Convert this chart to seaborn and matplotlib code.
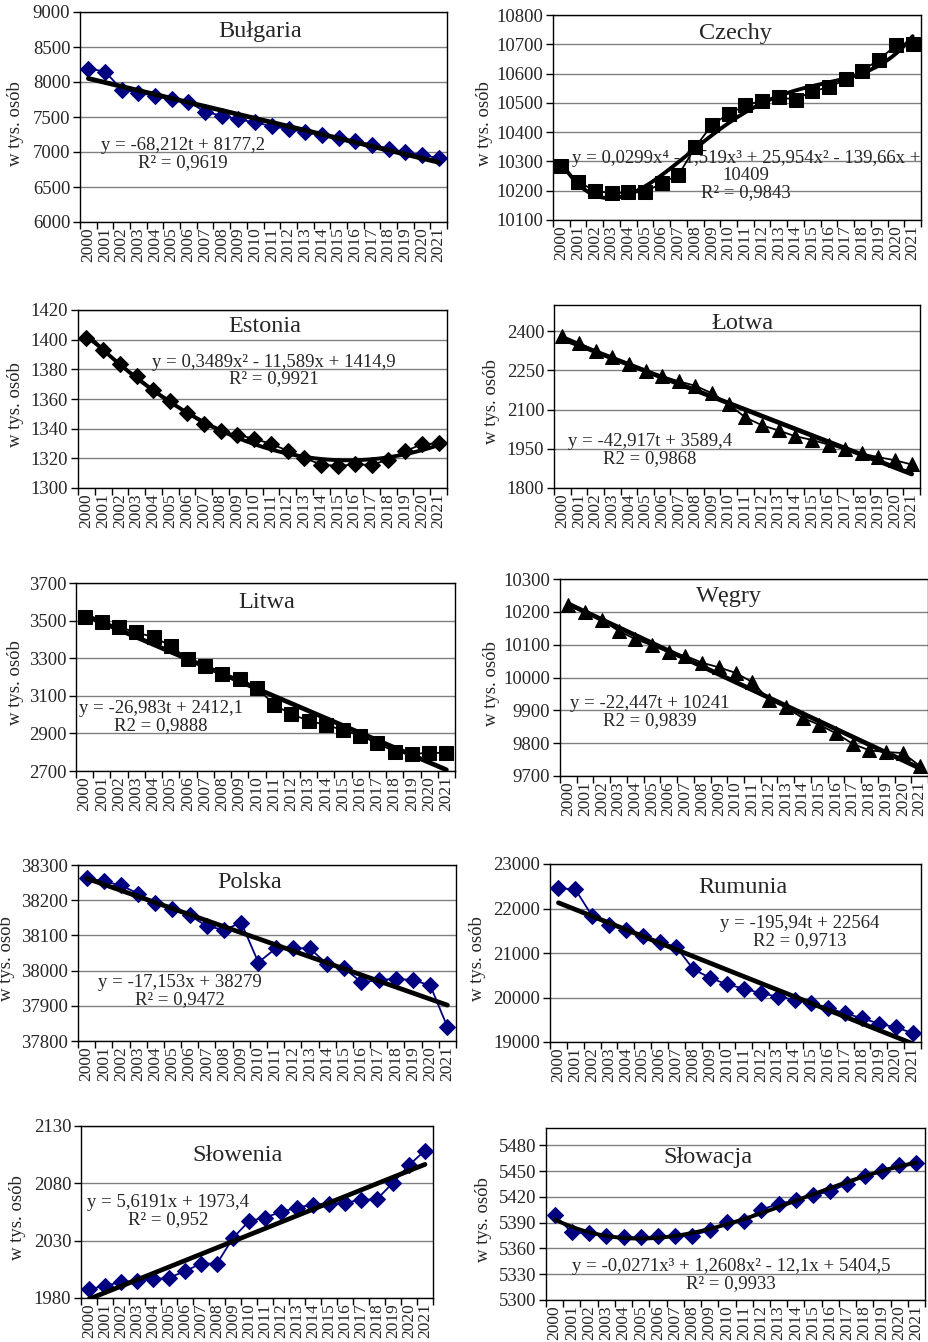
import numpy as np
import matplotlib
matplotlib.use("Agg")
import matplotlib.pyplot as plt
import seaborn as sns
from matplotlib.ticker import FixedLocator

# ---------------- data ----------------
years = list(range(2000, 2022))
year_labels = [str(y) for y in years]

bulgaria = [8191, 8150, 7891, 7846, 7801, 7761, 7719, 7573, 7518, 7467, 7422,
            7369, 7327, 7285, 7246, 7202, 7154, 7102, 7050, 7000, 6952, 6917]
czechy = [10283, 10231, 10200, 10191, 10194, 10195, 10226, 10254, 10348, 10425, 10462,
          10491, 10508, 10519, 10511, 10540, 10553, 10580, 10610, 10648, 10697, 10700]
estonia = [1401.3, 1392.7, 1383.5, 1375.2, 1366.3, 1358.9, 1350.7, 1342.9, 1338.4, 1335.7, 1333.3,
           1329.7, 1325.2, 1320.2, 1315.8, 1314.9, 1315.9, 1315.6, 1319.1, 1324.8, 1329.5, 1330.1]
lotwa = [2382, 2355, 2325, 2300, 2276, 2249, 2228, 2208, 2191, 2162, 2120,
         2070, 2040, 2020, 1998, 1984, 1966, 1948, 1932, 1918, 1906, 1890]
litwa = [3517, 3492, 3466, 3437, 3412, 3366, 3295, 3256, 3217, 3190, 3144,
         3052, 3002, 2968, 2945, 2918, 2888, 2847, 2803, 2789, 2798, 2795]
wegry = [10222, 10200, 10175, 10142, 10117, 10098, 10077, 10066, 10045, 10031, 10014,
         9986, 9932, 9909, 9877, 9856, 9830, 9798, 9778, 9773, 9770, 9731]
polska = [38263, 38254, 38242, 38219, 38191, 38174, 38157, 38126, 38116, 38136, 38023,
          38063, 38064, 38063, 38018, 38006, 37967, 37973, 37977, 37973, 37958, 37840]
rumunia = [22455, 22430, 21833, 21627, 21521, 21382, 21257, 21130, 20635, 20440, 20294,
           20199, 20096, 20020, 19947, 19871, 19760, 19644, 19534, 19414, 19329, 19202]
slowenia = [1987.8, 1990.5, 1994.0, 1995.0, 1996.4, 1997.6, 2003.4, 2010.0, 2010.0, 2032.4, 2047.0,
            2050.2, 2055.0, 2058.8, 2061.5, 2062.3, 2063.0, 2065.6, 2066.2, 2080.5, 2095.9, 2108.6]
slowacja = [5399, 5378.5, 5377.7, 5375, 5372.7, 5373, 5373.9, 5373.9, 5375, 5381, 5390.6,
            5392, 5405, 5412, 5415.8, 5421.7, 5426.3, 5435.3, 5443.8, 5450.5, 5457.4, 5459.4]

titles = ["Bułgaria", "Czechy", "Estonia", "Łotwa", "Litwa", "Węgry",
          "Polska", "Rumunia", "Słowenia", "Słowacja"]
series = [bulgaria, czechy, estonia, lotwa, litwa, wegry, polska, rumunia, slowenia, slowacja]
trend_degree = [1, 4, 2, 1, 1, 1, 1, 1, 1, 3]
equations = [
    "y = -68,212t + 8177,2\nR² = 0,9619",
    "y = 0,0299x⁴ - 1,519x³ + 25,954x² - 139,66x +\n10409\nR² = 0,9843",
    "y = 0,3489x² - 11,589x + 1414,9\nR² = 0,9921",
    "y = -42,917t + 3589,4\nR2 = 0,9868",
    "y = -26,983t + 2412,1\nR2 = 0,9888",
    "y = -22,447t + 10241\nR2 = 0,9839",
    "y = -17,153x + 38279\nR² = 0,9472",
    "y = -195,94t + 22564\nR2 = 0,9713",
    "y = 5,6191x + 1973,4\nR² = 0,952",
    "y = -0,0271x³ + 1,2608x² - 12,1x + 5404,5\nR² = 0,9933",
]
y_limits = [(6000, 9000), (10100, 10800), (1300, 1420), (1800, 2500), (2700, 3700),
            (9700, 10300), (37800, 38300), (19000, 23000), (1980, 2130), (5300, 5500)]
y_ticks = [
    [6000, 6500, 7000, 7500, 8000, 8500, 9000],
    [10100, 10200, 10300, 10400, 10500, 10600, 10700, 10800],
    [1300, 1320, 1340, 1360, 1380, 1400, 1420],
    [1800, 1950, 2100, 2250, 2400],
    [2700, 2900, 3100, 3300, 3500, 3700],
    [9700, 9800, 9900, 10000, 10100, 10200, 10300],
    [37800, 37900, 38000, 38100, 38200, 38300],
    [19000, 20000, 21000, 22000, 23000],
    [1980, 2030, 2080, 2130],
    [5300, 5330, 5360, 5390, 5420, 5450, 5480],
]

# ---------------- styles / layout ----------------
NAVY = "#000080"
BLACK = "#000000"
styles = [("D", NAVY, 8.5), ("s", BLACK, 10), ("D", BLACK, 8.5), ("^", BLACK, 10.5),
          ("s", BLACK, 10.5), ("^", BLACK, 10.5), ("D", NAVY, 8.5), ("D", NAVY, 8.5),
          ("D", NAVY, 8.5), ("D", NAVY, 8.5)]

W, H = 929, 1342
# (left, right, top, bottom) in pixels
boxes = [(80, 447, 12, 222), (553, 921, 15, 220), (78, 447, 310, 488), (554, 920, 305, 488),
         (76, 455, 583, 771), (560, 928, 579, 776), (78, 456, 865, 1041), (550, 921, 864, 1042),
         (81, 433, 1126, 1298), (546, 925, 1128, 1300)]
title_pos = [(0.49, 0.905), (0.495, 0.91), (0.505, 0.905), (0.516, 0.9), (0.504, 0.894),
             (0.46, 0.913), (0.455, 0.898), (0.52, 0.87), (0.446, 0.83), (0.427, 0.826)]
eq_pos = [(0.28, 0.323), (0.525, 0.215), (0.53, 0.66), (0.262, 0.208), (0.224, 0.287),
          (0.244, 0.323), (0.27, 0.285), (0.674, 0.62), (0.248, 0.505), (0.488, 0.145)]
ylabel_x = [-0.177, -0.185, -0.17, -0.17, -0.16, -0.185, -0.19, -0.195, -0.18, -0.166]

sns.set_style("white")
plt.rcParams["font.family"] = ["Liberation Serif", "DejaVu Serif"]
plt.rcParams["axes.unicode_minus"] = False

fig = plt.figure(figsize=(W / 100, H / 100), dpi=100)
x_idx = np.arange(len(years))

for i in range(10):
    l, r, t, b = boxes[i]
    ax = fig.add_axes([l / W, 1 - b / H, (r - l) / W, (b - t) / H])
    vals = np.array(series[i], dtype=float)
    marker, color, ms = styles[i]

    # data series
    sns.lineplot(x=x_idx, y=vals, ax=ax, color=color, lw=1.3, marker=marker,
                 markersize=ms, markeredgecolor=color, markerfacecolor=color,
                 zorder=3, legend=False)

    # trend line fitted from the data
    coef = np.polyfit(x_idx, vals, trend_degree[i])
    xs = np.linspace(0, len(years) - 1, 200)
    sns.lineplot(x=xs, y=np.polyval(coef, xs), ax=ax, color="black",
                 lw=3.4 if trend_degree[i] == 1 else 2.8, zorder=4, legend=False)

    ax.set_xlim(-0.5, len(years) - 0.5)
    ax.set_ylim(*y_limits[i])
    ax.yaxis.set_major_locator(FixedLocator(y_ticks[i]))
    ax.set_yticklabels([str(v) for v in y_ticks[i]], fontsize=13.5)
    ax.set_xticks(x_idx)
    ax.set_xticklabels(year_labels, rotation=90, fontsize=12.5)
    ax.xaxis.set_minor_locator(FixedLocator(np.arange(-0.5, len(years), 1.0)))
    ax.tick_params(axis="x", which="major", length=0, pad=4)
    ax.tick_params(axis="x", which="minor", length=5, width=1, direction="out",
                   color="black", bottom=True)
    ax.tick_params(axis="y", which="major", length=5, width=1, direction="out",
                   color="black", left=True, pad=2)
    ax.grid(axis="y", color="#808080", lw=1)
    ax.grid(axis="x", visible=False)
    ax.set_axisbelow(True)
    for sp in ax.spines.values():
        sp.set_visible(True)
        sp.set_color("black")
        sp.set_linewidth(1)

    ax.set_xlabel("")
    ax.set_ylabel("w tys. osób", fontsize=13.5, va="center")
    ax.yaxis.set_label_coords(ylabel_x[i], 0.47)

    ax.text(title_pos[i][0], title_pos[i][1], titles[i], transform=ax.transAxes,
            ha="center", va="center", fontsize=17.5, zorder=2)
    ax.text(eq_pos[i][0], eq_pos[i][1], equations[i], transform=ax.transAxes,
            ha="center", va="center", fontsize=13.5, multialignment="center",
            linespacing=1.0, zorder=2)

fig.savefig("out.png", dpi=100)
